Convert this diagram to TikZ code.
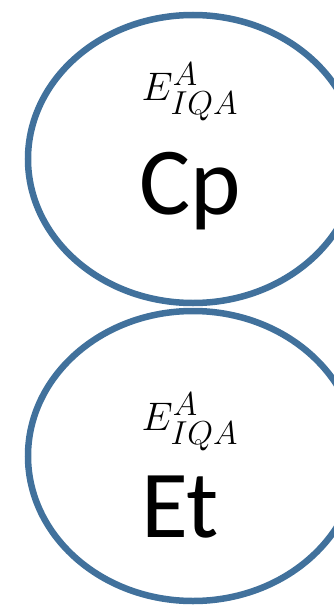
\documentclass[tikz,border=0pt]{standalone}
\usepackage{amsmath}
\usepackage{fontspec}
\setmainfont{Carlito}
\usetikzlibrary{shapes.geometric}
\definecolor{ringblue}{HTML}{41719C}

\begin{document}
\begin{tikzpicture}[x=1pt,y=-1pt]
	 \tikzstyle{ring}=[ellipse,draw=ringblue,line width=6.5pt,minimum width=330pt,minimum height=288pt,inner sep=0pt]
	 \tikzstyle{energy}=[font=\Huge,scale=1.6,transform shape,inner sep=0pt,anchor=base]
	 \tikzstyle{mol}=[font=\fontsize{96}{100}\selectfont,inner sep=0pt,anchor=base]
	 \useasboundingbox (0,0) rectangle (333,605);
	 \node[ring] (r1) at (193,159) {};
	 \node[ring,minimum height=290pt] (r2) at (193,456) {};
	 \node[energy] (e1) at (190,100) {$E^{A}_{IQA}$};
	 \node[mol] (m1) at (190,214) {Cp};
	 \node[energy] (e2) at (190,430) {$E^{A}_{IQA}$};
	 \node[mol] (m2) at (180,537) {Et};
 \end{tikzpicture}
\end{document}
